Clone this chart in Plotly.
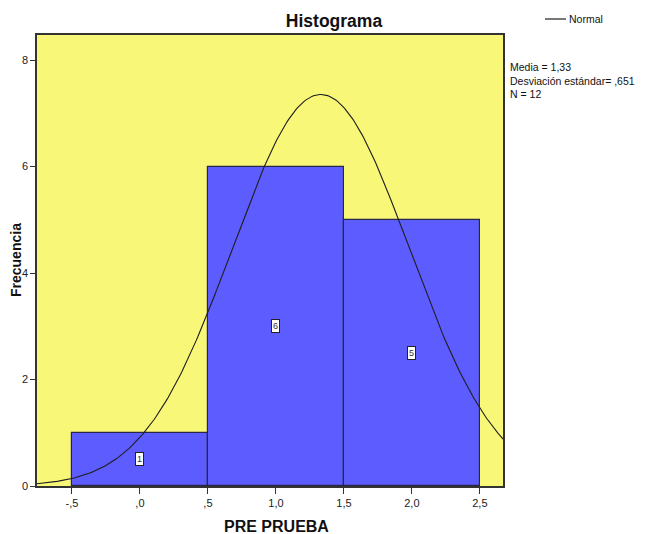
import numpy as np
import plotly.graph_objects as go

bin_centers = [0.0, 1.0, 2.0]
counts = [1, 6, 5]
bin_width = 1.0
mean_val = 1.33
sd_val = 0.651
n_val = 12
x_ticks = [-0.5, 0.0, 0.5, 1.0, 1.5, 2.0, 2.5]
x_tick_labels = ["-,5", ",0", ",5", "1,0", "1,5", "2,0", "2,5"]
y_ticks = [0, 2, 4, 6, 8]
y_tick_labels = ["0", "2", "4", "6", "8"]

FONT = "Liberation Sans, Arial, sans-serif"

W, H = 643, 526
L, T, R, B = 29, 27, 148, 48
PW, PH = W - L - R, H - T - B


def px(xp):
    return (xp - 8 - L) / PW


def py(yp):
    return (H - B - (yp - 8)) / PH


xs = np.linspace(-0.76, 2.68, 300)
ys = n_val * bin_width / (sd_val * np.sqrt(2 * np.pi)) * np.exp(-0.5 * ((xs - mean_val) / sd_val) ** 2)

fig = go.Figure()
fig.add_trace(go.Bar(
    x=bin_centers, y=counts, width=bin_width,
    marker=dict(color="rgb(92,92,255)", line=dict(color="rgb(40,40,70)", width=1.2)),
    showlegend=False, hoverinfo="skip",
))
fig.add_trace(go.Scatter(
    x=xs, y=ys, mode="lines", name="Normal",
    line=dict(color="rgb(30,30,30)", width=1.1), showlegend=False,
))

for c, v in zip(bin_centers, counts):
    fig.add_annotation(x=c, y=v / 2, text=str(v), showarrow=False,
                       font=dict(family=FONT, size=9, color="#333"),
                       bgcolor="white", bordercolor="#222", borderwidth=1, borderpad=1)

# legend (Normal)
fig.add_shape(type="line", xref="paper", yref="paper", x0=px(545), x1=px(566), y0=py(19), y1=py(19),
              line=dict(color="rgb(30,30,30)", width=1.2))
fig.add_annotation(xref="paper", yref="paper", x=px(567), y=py(19), xanchor="left", yanchor="middle",
                   text="Normal", showarrow=False, font=dict(family=FONT, size=10.5, color="#111"))

fig.add_annotation(xref="paper", yref="paper", x=px(508), y=py(59),
                   xanchor="left", yanchor="top", align="left", showarrow=False,
                   text="Media = 1,33<br>Desviación estándar= ,651<br>N = 12",
                   font=dict(family=FONT, size=10.5, color="#111"))

fig.add_annotation(xref="paper", yref="paper", x=px(276), y=py(526), xanchor="center", yanchor="middle",
                   text="<b>PRE PRUEBA</b>", showarrow=False, font=dict(family=FONT, size=16, color="#111"))
fig.add_annotation(xref="paper", yref="paper", x=px(16), y=py(260), xanchor="center", yanchor="middle",
                   text="<b>Frecuencia</b>", textangle=-90, showarrow=False,
                   font=dict(family=FONT, size=14, color="#111"))

fig.update_layout(
    width=W, height=H,
    margin=dict(l=L, r=R, t=T, b=B, autoexpand=False),
    paper_bgcolor="white",
    plot_bgcolor="rgb(249,247,119)",
    bargap=0,
    title=dict(text="<b>Histograma</b>", x=(334 - 8) / W, xanchor="center", y=1 - (21 - 8) / H, yanchor="middle",
               font=dict(family=FONT, size=17.5, color="#111")),
    showlegend=False,
    font=dict(family=FONT, color="#111"),
)
fig.update_xaxes(
    range=[-0.757, 2.67], tickmode="array", tickvals=x_ticks, ticktext=x_tick_labels,
    ticks="outside", ticklen=6, tickcolor="#333", showgrid=False, zeroline=False,
    showline=True, linecolor="#333", linewidth=1.5, mirror=True, automargin=False,
    tickfont=dict(family=FONT, size=11, color="#222"),
)
fig.update_yaxes(
    range=[0, 8.47], tickmode="array", tickvals=y_ticks, ticktext=y_tick_labels,
    ticks="outside", ticklen=5, tickcolor="#333", showgrid=False, zeroline=False,
    showline=True, linecolor="#333", linewidth=1.5, mirror=True, automargin=False,
    tickfont=dict(family=FONT, size=11, color="#222"),
)

fig.write_html("out.html")
